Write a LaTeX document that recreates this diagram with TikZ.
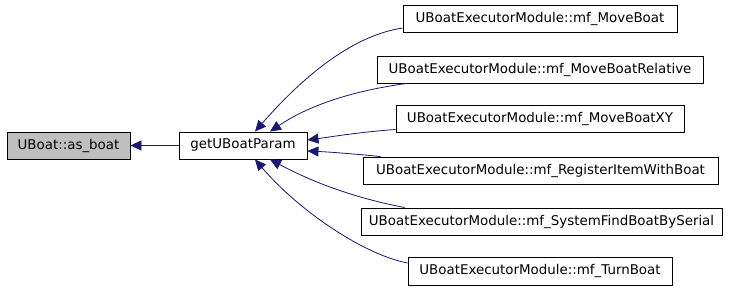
\documentclass[tikz,border=0pt]{standalone}
\usepackage{fontspec}
\setmainfont{DejaVu Sans}
\usetikzlibrary{arrows.meta}
\definecolor{edgeblue}{HTML}{191970}
\definecolor{boxgray}{HTML}{BFBFBF}
\begin{document}
\begin{tikzpicture}[x=1pt,y=-1pt,
  fn/.style={draw=black,line width=0.9pt,fill=white,minimum height=27pt,inner sep=0pt,
    font=\fontsize{13.4}{15}\selectfont,anchor=center},
  cur/.style={fn,fill=boxgray},
  edge/.style={draw=edgeblue,line width=0.8pt,
    -{Triangle[length=11pt,width=10pt,fill=edgeblue]}}]
\useasboundingbox[fill=white] (0,0) rectangle (731,291);
\node[cur,minimum width=123pt] (asboat) at (68.5,145.5) {UBoat::as\_boat};
\node[fn,minimum width=128pt] (param) at (243,145.5) {getUBoatParam};
\node[fn,minimum width=274pt] (n1) at (540,18.5) {UBoatExecutorModule::mf\_MoveBoat};
\node[fn,minimum width=326pt] (n2) at (540,69.5) {UBoatExecutorModule::mf\_MoveBoatRelative};
\node[fn,minimum width=288pt] (n3) at (540,118.5) {UBoatExecutorModule::mf\_MoveBoatXY};
\node[fn,minimum width=355pt] (n4) at (540.5,170.5) {UBoatExecutorModule::mf\_RegisterItemWithBoat};
\node[fn,minimum width=361pt] (n5) at (541.5,221.5) {UBoatExecutorModule::mf\_SystemFindBoatBySerial};
\node[fn,minimum width=264pt,minimum height=28pt] (n6) at (540,271) {UBoatExecutorModule::mf\_TurnBoat};

\draw[edge] (param.west) -- (asboat.east);
\draw[edge] ([shift={(0,9.5)}]n1.west) .. controls (350,36) and (300,80) .. ([shift={(12,0)}]param.north);
\draw[edge] ([shift={(30,0)}]n2.south west) .. controls (345,92) and (305,108) .. ([shift={(27,0)}]param.north);
\draw[edge] ([shift={(0,11)}]n3.west) .. controls (360,132) and (330,137) .. ([shift={(0,-5.5)}]param.east);
\draw[edge] ([shift={(18,0)}]n4.north west) .. controls (355,154) and (330,152) .. ([shift={(0,5.5)}]param.east);
\draw[edge] ([shift={(44,0)}]n5.north west) .. controls (345,196) and (305,178) .. ([shift={(27,0)}]param.south);
\draw[edge] ([shift={(0,-8)}]n6.west) .. controls (365,255) and (300,212) .. ([shift={(12,0)}]param.south);
\end{tikzpicture}
\end{document}
